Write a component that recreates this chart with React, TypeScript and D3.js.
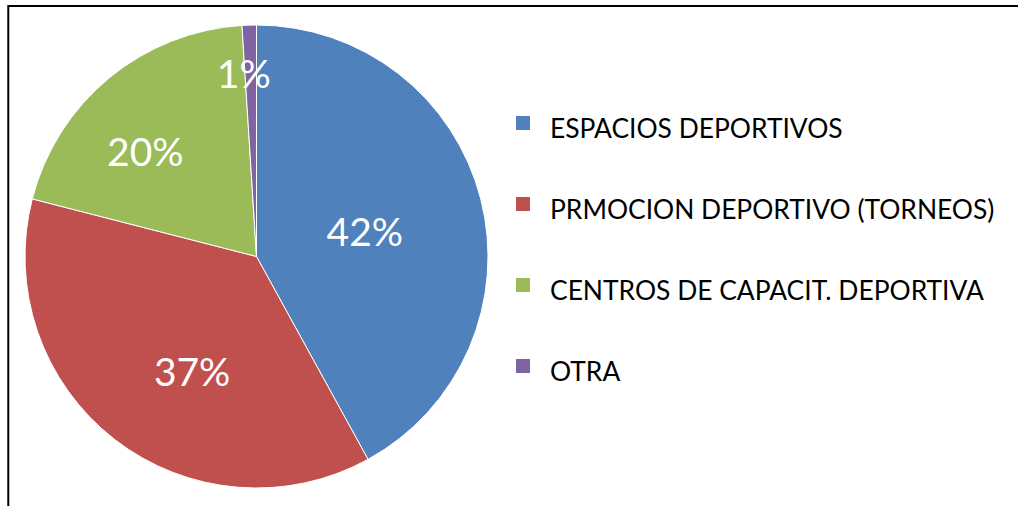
import { pie, arc } from "d3"

const categories = ["ESPACIOS DEPORTIVOS", "PRMOCION DEPORTIVO (TORNEOS)", "CENTROS DE CAPACIT. DEPORTIVA", "OTRA"]
const values = [42, 37, 20, 1]
const pctLabels = ["42%", "37%", "20%", "1%"]
const colors = ["#4F81BD", "#C0504D", "#9BBB59", "#8064A2"]

// label placement: fraction of radius, angle shift (deg) from slice middle
const labelRadius = [0.48, 0.57, 0.66, 0.79]
const labelShift = [1.4, -8.6, -7.1, -2.2]

const W = 1018
const H = 506
const cx = 256.5
const cy = 256.5
const R = 231.5
const font = "Lato, 'Open Sans', sans-serif"

const App = () => {
  const slices = pie<number>().sort(null).value(d => d)(values)
  const arcGen = arc<any>().innerRadius(0).outerRadius(R)

  const legendX = 516
  const legendBase = 138
  const legendStep = 81

  return (
    <svg width={W} height={H} style={{ position: "absolute", left: 0, top: 0 }}>
      <rect x={0} y={0} width={W} height={H} fill="#fff" />
      <rect x={8.3} y={6} width={W + 20} height={H + 20} fill="none" stroke="#000" strokeWidth={2} />
      <g transform={`translate(${cx},${cy})`}>
        {slices.map((s, i) => (
          <path key={i} d={arcGen(s) as string} fill={colors[i]} stroke="#fff" strokeWidth={1} />
        ))}
        {slices.map((s, i) => {
          const a = (s.startAngle + s.endAngle) / 2 + (labelShift[i] * Math.PI) / 180
          const r = R * labelRadius[i]
          return (
            <text key={i} x={Math.sin(a) * r} y={-Math.cos(a) * r} dy="0.36em" textAnchor="middle"
              fill="#fff" fontFamily={font} fontSize={39}>
              {pctLabels[i]}
            </text>
          )
        })}
      </g>
      <g>
        {categories.map((c, i) => (
          <g key={c}>
            <rect x={legendX} y={legendBase + i * legendStep - 22} width={14} height={14} fill={colors[i]} />
            <text x={550} y={legendBase + i * legendStep} fill="#000" fontFamily={font} fontSize={26.4}>{c}</text>
          </g>
        ))}
      </g>
    </svg>
  )
}

export default App
